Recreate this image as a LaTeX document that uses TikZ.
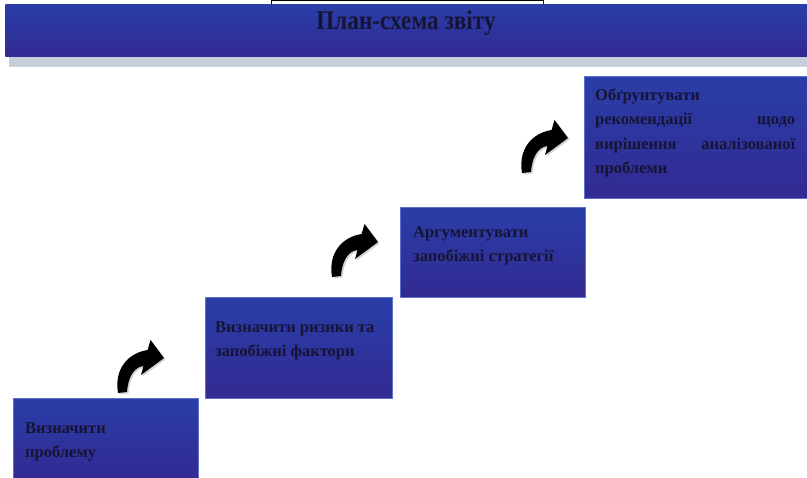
\documentclass[tikz,border=0pt]{standalone}
\usepackage{fontspec}
\setmainfont{Liberation Serif}
\usetikzlibrary{positioning}
\definecolor{boxtop}{RGB}{42,62,168}
\definecolor{boxbot}{RGB}{50,42,146}
\definecolor{boxedge}{RGB}{92,112,204}
\definecolor{ink}{RGB}{22,20,52}
\definecolor{shadowgray}{RGB}{198,208,218}
\newcommand{\curlyshape}{(0,0) .. controls (-4,-24) and (10,-40) .. (29.6,-43)
    -- (32.5,-53) -- (46,-35) -- (23,-18) -- (25.5,-27)
    .. controls (16,-26) and (10,-16) .. (9,-1) -- cycle}
\begin{document}
\begin{tikzpicture}[x=1pt,y=-1pt,
    stepbox/.style={rectangle, anchor=north west, inner sep=0pt,
        top color=boxtop, bottom color=boxbot, draw=boxedge, line width=0.6pt},
    steptext/.style={inner sep=0pt, align=left, text=ink,
        font=\bfseries\fontsize{16.5}{24.5}\selectfont},
    curlyarrow/.pic={
        \fill[gray!35, shift={(1.5,1.5)}] \curlyshape;
        \fill[black] \curlyshape;
    }]
\useasboundingbox (0,0) rectangle (807,478);
% Frame at the top edge
\draw[line width=0.6pt] (271,4) -- (271,0) -- (543,0) -- (543,4);
% Title banner
\fill[shadowgray] (9,50) rectangle (807,67);
\node[stepbox, draw=none, minimum width=802pt, minimum height=52pt] (banner) at (5,4) {};
\node[text=ink, font=\bfseries\fontsize{27}{27}\selectfont, anchor=base] (title) at (406,30)
    {\scalebox{0.86}[1]{План-схема звіту}};
% Steps
\node[stepbox, minimum width=185pt, minimum height=80pt] (b1) at (13,398) {};
\node[stepbox, minimum width=187pt, minimum height=101pt] (b2) at (205,297) {};
\node[stepbox, minimum width=185pt, minimum height=90pt] (b3) at (400,207) {};
\node[stepbox, minimum width=223pt, minimum height=122pt] (b4) at (584,76) {};
\node[steptext, below right=24pt and 12pt of b1.north west] (t1) {Визначити\\проблему};
\node[steptext, below right=24pt and 10pt of b2.north west] (t2) {Визначити ризики та\\запобіжні фактори};
\node[steptext, below right=19pt and 13pt of b3.north west] (t3) {Аргументувати\\запобіжні стратегії};
\node[steptext, text width=200pt, below right=12pt and 11pt of b4.north west] (t4)
    {Обґрунтувати\\рекомендації \hfill щодо\\вирішення \hfill аналізованої\\проблеми};
% Curved arrows between the steps
\pic at (118,393) {curlyarrow};
\pic at (332,277) {curlyarrow};
\pic at (522,173) {curlyarrow};
\end{tikzpicture}
\end{document}
